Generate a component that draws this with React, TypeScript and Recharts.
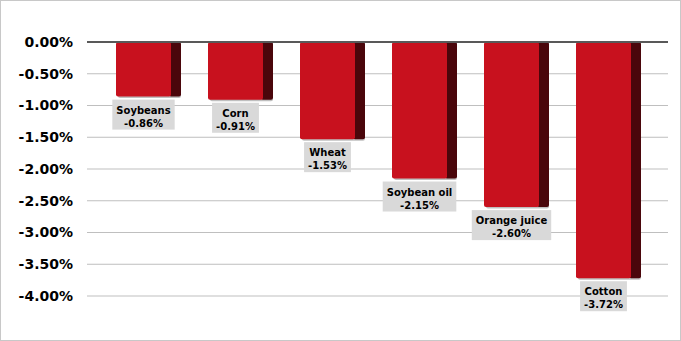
import { Bar, BarChart, CartesianGrid, ReferenceLine, XAxis, YAxis } from "recharts";

const categories = ["Soybeans", "Corn", "Wheat", "Soybean oil", "Orange juice", "Cotton"];
const changes = [-0.86, -0.91, -1.53, -2.15, -2.6, -3.72];
const yTicks = [0, -0.5, -1, -1.5, -2, -2.5, -3, -3.5, -4];

const chartData = categories.map((name, i) => ({ name, value: changes[i] }));

const LABEL_FONT = "bold 10px 'DejaVu Sans'";

function textWidth(text: string) {
  const ctx = document.createElement("canvas").getContext("2d");
  if (!ctx) return text.length * 6;
  ctx.font = LABEL_FONT;
  return ctx.measureText(text).width;
}

function Bar3D(props: any) {
  const { x, y, width, height, payload } = props;
  const top = Math.min(y, y + height);
  const h = Math.abs(height);
  const side = 10;
  const front = width - side;
  const cx = x + front / 2;
  const bottom = top + h;
  const valueText = `${payload.value.toFixed(2)}%`;
  const boxW = Math.max(textWidth(payload.name), textWidth(valueText)) + 8;
  const boxTop = bottom + 3;
  return (
    <g>
      <rect x={x + 2} y={top} width={width - 2} height={h + 1.5} rx={2} fill="#000" opacity={0.25} />
      <rect x={x + front - 2} y={top} width={side + 2} height={h} rx={2} fill="#4a060b" />
      <rect x={x} y={top} width={front} height={h} rx={2} fill="#c8111e" />
      <rect x={cx - boxW / 2} y={boxTop} width={boxW} height={30} fill="#d9d9d9" />
      <text
        x={cx}
        y={boxTop + 14}
        textAnchor="middle"
        fontFamily="'DejaVu Sans'"
        fontWeight="bold"
        fontSize={10}
        fill="#000"
      >
        {payload.name}
      </text>
      <text
        x={cx}
        y={boxTop + 27}
        textAnchor="middle"
        fontFamily="'DejaVu Sans'"
        fontWeight="bold"
        fontSize={10}
        fill="#000"
      >
        {valueText}
      </text>
    </g>
  );
}

export default function App() {
  return (
    <div
      style={{
        position: "absolute",
        left: 0,
        top: 0,
        width: 681,
        height: 341,
        boxSizing: "border-box",
        border: "1px solid #c8c8c8",
        background: "#fff"
      }}
    >
      <BarChart
        width={679}
        height={339}
        data={chartData}
        margin={{ top: 41, right: 12, bottom: 44, left: 0 }}
      >
        <CartesianGrid vertical={false} stroke="#bfbfbf" />
        <XAxis dataKey="name" hide padding={{ left: 15, right: 14 }} />
        <YAxis
          type="number"
          domain={[-4, 0]}
          ticks={yTicks}
          width={86}
          axisLine={false}
          tickLine={false}
          tickMargin={8}
          tickFormatter={(v: number) => `${v.toFixed(2)}%`}
          tick={{ fontFamily: "DejaVu Sans", fontWeight: "bold", fontSize: 14, fill: "#000" }}
        />
        <Bar dataKey="value" barSize={65} shape={Bar3D} isAnimationActive={false} />
        <ReferenceLine y={0} stroke="#595959" strokeWidth={2} />
      </BarChart>
    </div>
  );
}
